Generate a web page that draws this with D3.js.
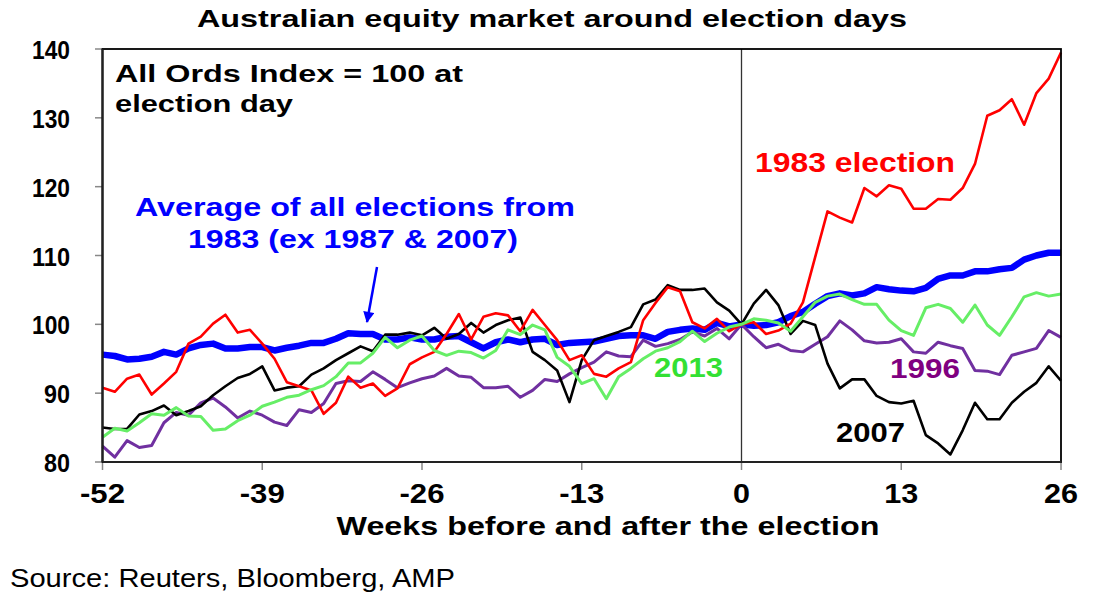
<!DOCTYPE html>
<html>
<head>
<meta charset="utf-8">
<script src="https://cdn.jsdelivr.net/npm/d3@7"></script>
<style>
  body { margin: 0; background: #fff; }
  svg { display: block; font-family: "Liberation Sans", Arial, sans-serif; }
</style>
</head>
<body>
<svg id="chart" width="1097" height="608"></svg>
<script>
// weeks from election day
var weeks = d3.range(-52, 27);
var xTicks = [-52, -39, -26, -13, 0, 13, 26];
var yTicks = [80, 90, 100, 110, 120, 130, 140];

// index values (All Ords = 100 at election day)
var avgAll = [95.6, 95.4, 94.9, 95.0, 95.3, 96.0, 95.6, 96.5, 97.0, 97.2, 96.5, 96.5, 96.7,
  96.7, 96.2, 96.6, 96.9, 97.3, 97.3, 97.9, 98.7, 98.6, 98.6, 97.8, 97.8, 98.1,
  97.8, 97.8, 98.2, 98.3, 97.4, 96.5, 97.4, 97.8, 97.4, 97.8, 97.9, 97.0, 97.3,
  97.4, 97.5, 97.9, 98.3, 98.4, 98.4, 97.9, 98.9, 99.2, 99.4, 99.2, 100.2, 99.7,
  100, 99.8, 99.9, 100.3, 101.2, 101.8, 103.0, 104.1, 104.5, 104.2, 104.5, 105.4, 105.1, 104.9,
  104.8, 105.3, 106.6, 107.1, 107.1, 107.7, 107.7, 108.0, 108.2, 109.4, 110.0, 110.4, 110.4];

var e1983 = [90.8, 90.2, 92.1, 92.7, 89.8, 91.4, 93.1, 97.2, 98.2, 100.1, 101.4, 98.8, 99.2,
  97.2, 95.0, 91.6, 91.0, 90.4, 87.0, 88.6, 92.4, 90.8, 91.4, 89.6, 90.7, 94.2,
  95.2, 96.0, 98.6, 101.5, 97.8, 101.1, 101.6, 101.3, 99.0, 102.1, 99.9, 97.7, 94.8,
  95.5, 92.8, 92.4, 93.6, 94.5, 100.6, 103.1, 105.4, 104.8, 100.3, 99.4, 100.8, 99.0,
  100, 100.3, 98.6, 99.1, 100.1, 103.2, 109.8, 116.4, 115.5, 114.8, 119.8, 118.6, 120.2, 119.7,
  116.8, 116.8, 118.2, 118.1, 119.8, 123.3, 130.3, 131.1, 132.7, 129.0, 133.6, 135.7, 139.5];

var e2007 = [85.0, 84.8, 84.8, 86.9, 87.4, 88.2, 86.8, 87.4, 88.1, 89.7, 91.0, 92.2, 92.8,
  93.9, 90.4, 90.8, 91.0, 92.7, 93.6, 94.8, 95.8, 96.8, 96.1, 98.5, 98.5, 98.8,
  98.4, 99.5, 97.9, 98.6, 100.2, 98.8, 99.9, 100.6, 101.0, 96.0, 94.8, 93.3, 88.7,
  94.8, 97.7, 98.3, 98.9, 99.6, 102.9, 103.6, 105.7, 105.0, 105.0, 105.2, 103.2, 102.0,
  100, 103.0, 105.0, 102.8, 98.6, 100.5, 99.9, 94.3, 90.7, 92.0, 92.0, 89.6, 88.7, 88.5,
  88.9, 83.9, 82.7, 81.1, 84.6, 88.6, 86.2, 86.2, 88.6, 90.2, 91.5, 93.9, 91.8];

var e2013 = [83.6, 84.9, 84.5, 85.7, 87.0, 86.8, 87.9, 86.7, 86.6, 84.6, 84.8, 86.0, 86.8,
  88.1, 88.7, 89.4, 89.7, 90.5, 91.1, 92.4, 94.4, 94.4, 95.8, 98.1, 96.6, 97.7,
  98.3, 96.2, 95.5, 96.1, 95.9, 95.1, 96.2, 99.2, 98.5, 99.9, 99.2, 95.2, 93.9,
  91.4, 92.1, 89.2, 92.4, 93.6, 95.0, 96.1, 96.6, 97.5, 99.0, 97.5, 98.7, 99.6,
  100, 100.8, 100.6, 100.2, 99.0, 101.1, 103.2, 104.1, 104.4, 103.6, 102.9, 102.9, 100.6, 99.1,
  98.4, 102.4, 102.9, 102.3, 100.3, 102.8, 99.9, 98.4, 101.1, 104.0, 104.6, 104.1, 104.4];

var e1996 = [82.3, 80.7, 83.1, 82.1, 82.4, 85.7, 87.2, 86.8, 88.6, 89.3, 88.0, 86.4, 87.4,
  86.8, 85.8, 85.3, 87.6, 87.2, 88.5, 91.4, 91.8, 91.7, 93.1, 92.0, 90.8, 91.5,
  92.1, 92.5, 93.6, 92.5, 92.3, 90.8, 90.8, 91.0, 89.4, 90.4, 92.0, 91.7, 92.8,
  93.7, 94.5, 96.0, 95.4, 95.3, 97.7, 96.8, 97.2, 97.8, 98.9, 98.3, 99.4, 97.9,
  100, 98.2, 96.6, 97.1, 96.2, 96.0, 97.1, 98.2, 100.5, 99.2, 97.6, 97.3, 97.4, 97.9,
  96.0, 95.8, 97.4, 96.9, 96.5, 93.3, 93.2, 92.7, 95.5, 96.0, 96.5, 99.1, 98.1];

var svg = d3.select("#chart");

var x = d3.scaleLinear().domain([-52, 26]).range([102.5, 1061]);
var y = d3.scaleLinear().domain([80, 140]).range([462, 49]);

// text helper, widths stretched to match the original
function label(txt, px, py, size, len, color, anchor, weight) {
  var t = svg.append("text")
    .attr("x", px).attr("y", py)
    .attr("font-size", size)
    .attr("font-weight", weight || "bold")
    .attr("fill", color)
    .attr("text-anchor", anchor || "start")
    .text(txt);
  if (len) t.attr("textLength", len).attr("lengthAdjust", "spacingAndGlyphs");
  return t;
}

// y ticks + labels
yTicks.forEach(function(v) {
  svg.append("line").attr("x1", 95).attr("x2", x(-52))
    .attr("y1", y(v)).attr("y2", y(v))
    .attr("stroke", "#888").attr("stroke-width", 1.5);
  label(v, 70, y(v) + 10, 25, v >= 100 ? 38 : 26, "#000", "end");
});

// x ticks + labels
xTicks.forEach(function(w) {
  svg.append("line").attr("x1", x(w)).attr("x2", x(w))
    .attr("y1", y(80)).attr("y2", y(80) + 8)
    .attr("stroke", "#888").attr("stroke-width", 1.5);
  label(w, x(w), 503, 27, w < 0 ? 45 : (w === 0 ? 17 : 34), "#000", "middle");
});

// election day line
svg.append("line").attr("x1", x(0)).attr("x2", x(0))
  .attr("y1", y(140)).attr("y2", y(80))
  .attr("stroke", "#333").attr("stroke-width", 1.3);

// series
var line = d3.line()
  .x(function(d, i) { return x(weeks[i]); })
  .y(function(d) { return y(d); });

var series = [
  { vals: avgAll, color: "#0000ff", width: 6.5 },
  { vals: e1996, color: "#7030a0", width: 3 },
  { vals: e2007, color: "#000000", width: 2.6 },
  { vals: e1983, color: "#ff0000", width: 2.6 },
  { vals: e2013, color: "#66ee66", width: 3 }
];

series.forEach(function(s) {
  svg.append("path").datum(s.vals)
    .attr("d", line)
    .attr("fill", "none")
    .attr("stroke", s.color)
    .attr("stroke-width", s.width)
    .attr("stroke-linejoin", "round");
});

// frame
svg.append("rect").attr("x", x(-52)).attr("y", y(140))
  .attr("width", x(26) - x(-52)).attr("height", y(80) - y(140))
  .attr("fill", "none").attr("stroke", "#000").attr("stroke-width", 1.8);
svg.append("line").attr("x1", x(-52)).attr("x2", x(-52)).attr("y1", y(140)).attr("y2", y(80))
  .attr("stroke", "#222").attr("stroke-width", 2.2);
svg.append("line").attr("x1", x(-52)).attr("x2", x(26)).attr("y1", y(80)).attr("y2", y(80))
  .attr("stroke", "#222").attr("stroke-width", 2.2);

// titles
label("Australian equity market around election days", 552, 27, 24, 710, "#000", "middle");
label("Weeks before and after the election", 608, 535, 25, 543, "#000", "middle");
label("Source: Reuters, Bloomberg, AMP", 10, 587, 25, 445, "#000", "start", "normal");

// annotations
label("All Ords Index = 100 at", 115, 82, 23, 348, "#000");
label("election day", 115, 112, 23, 178, "#000");
label("Average of all elections from", 355, 216, 26, 440, "#0000ff", "middle");
label("1983 (ex 1987 & 2007)", 353, 248, 26, 330, "#0000ff", "middle");
label("1983 election", 755, 172, 27, 200, "#ff0000");
label("2013", 654, 377, 27, 69, "#33e033");
label("1996", 890, 378, 27, 70, "#800080");
label("2007", 836, 442, 27, 69, "#000");

// arrow to the average line
svg.append("defs").append("marker")
  .attr("id", "head").attr("viewBox", "0 0 10 10")
  .attr("refX", 9).attr("refY", 5)
  .attr("markerWidth", 5).attr("markerHeight", 4.5)
  .attr("orient", "auto")
  .append("path").attr("d", "M0,0 L10,5 L0,10 Z").attr("fill", "#0000ff");
svg.append("line")
  .attr("x1", 377).attr("y1", 267).attr("x2", 367).attr("y2", 322)
  .attr("stroke", "#0000ff").attr("stroke-width", 2.5)
  .attr("marker-end", "url(#head)");
</script>
</body>
</html>
